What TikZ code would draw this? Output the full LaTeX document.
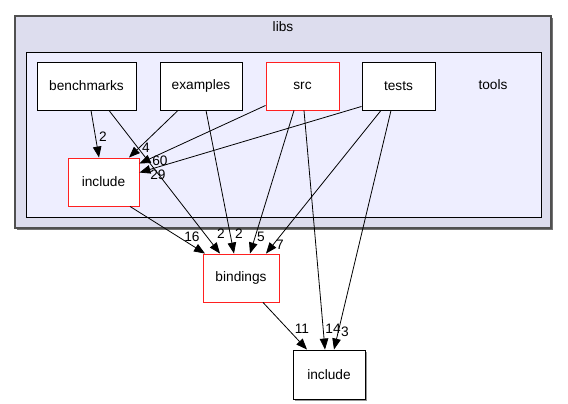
\documentclass[tikz,border=0pt]{standalone}
\usepackage{fontspec}
\setmainfont{Liberation Sans}
\usetikzlibrary{arrows.meta}
\definecolor{outerfill}{HTML}{DDDDEE}
\definecolor{innerfill}{HTML}{EEEEFF}
\definecolor{outerline}{HTML}{505050}
\definecolor{dirred}{HTML}{FF2020}
\begin{document}
\begin{tikzpicture}[x=1pt,y=-1pt,
  box/.style={draw=black,fill=white,line width=0.9pt,rectangle,minimum height=48pt,inner sep=0pt,font=\fontsize{13.7}{16}\selectfont},
  redbox/.style={box,draw=dirred},
  dep/.style={draw=black,line width=0.8pt,-{Triangle[length=11pt,width=8.5pt]}},
  lbl/.style={font=\fontsize{13.7}{16}\selectfont,inner sep=0pt},
]
\useasboundingbox (0,0) rectangle (568,404);
% libs cluster
\fill[outerline!80] (17,18) rectangle (553,230);
\draw[fill=outerfill,draw=outerline,line width=1.2pt] (15,16) rectangle (551,228);
\node[lbl] (libs) at (283,27) {libs};
% tools cluster
\draw[fill=innerfill,draw=black,line width=0.9pt] (26,52) rectangle (541,217);
\node[lbl] (tools) at (493,85) {tools};
% nodes
\node[box,minimum width=99pt] (benchmarks) at (86.5,86) {benchmarks};
\node[box,minimum width=82pt] (examples) at (201,86) {examples};
\node[redbox,minimum width=73pt] (src) at (302.5,86) {src};
\node[box,minimum width=73pt] (tests) at (398.5,86) {tests};
\node[redbox,minimum width=71pt] (incl) at (103.5,182) {include};
\node[redbox,minimum width=76pt] (bindings) at (241,278) {bindings};
\fill[outerline!60] (295,352) rectangle (367,401);
\node[box,minimum width=72pt,minimum height=49pt] (inclb) at (329,374.5) {include};
% edges
\draw[dep] ([xshift=4.5pt]benchmarks.south) -- ([xshift=-4.5pt]incl.north);
\node[lbl] (l1) at (103,137) {2};
\draw[dep] ([xshift=22.5pt]benchmarks.south) -- ([xshift=-21pt]bindings.north);
\node[lbl] (l2) at (221,234) {2};
\draw[dep] ([xshift=-23pt]examples.south) -- ([xshift=25.5pt]incl.north);
\node[lbl] (l3) at (146,148) {4};
\draw[dep] ([xshift=5pt]examples.south) -- ([xshift=-7pt]bindings.north);
\node[lbl] (l4) at (239,234) {2};
\draw[dep] ([yshift=5pt]src.south west) -- ([yshift=-6pt]incl.north east);
\node[lbl] (l5) at (160,161) {60};
\draw[dep] ([xshift=-8.5pt]src.south) -- ([xshift=9pt]bindings.north);
\node[lbl] (l6) at (261,237) {5};
\draw[dep] ([xshift=1.5pt]src.south) -- ([xshift=-4pt]inclb.north);
\node[lbl] (l7) at (333,329) {14};
\draw[dep] ([yshift=4pt]tests.south west) -- ([yshift=-15pt]incl.north east);
\node[lbl] (l8) at (158,175) {29};
\draw[dep] ([xshift=-17.5pt]tests.south) -- ([xshift=25pt]bindings.north);
\node[lbl] (l9) at (280,245) {7};
\draw[dep] ([xshift=-7.5pt]tests.south) -- ([xshift=5pt]inclb.north);
\node[lbl] (l10) at (345,332) {3};
\draw[dep] ([xshift=26.5pt]incl.south) -- ([xshift=-36pt]bindings.north);
\node[lbl] (l11) at (192,237) {16};
\draw[dep] ([xshift=22pt]bindings.south) -- ([xshift=-22pt]inclb.north);
\node[lbl] (l12) at (302,329) {11};
\end{tikzpicture}
\end{document}
